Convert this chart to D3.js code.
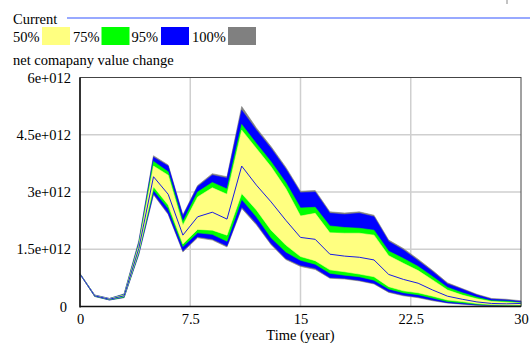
<!doctype html>
<html>
<head>
<meta charset="utf-8">
<script src="https://cdn.jsdelivr.net/npm/d3@7"></script>
<style>
  body { margin: 0; background: #fff; }
  svg { display: block; font-family: "Liberation Serif", "Times New Roman", serif; }
</style>
</head>
<body>
<div id="chart"></div>
<script>
  // simulation run values (e+012) per year
  const years = [0,1,2,3,4,5,6,7,8,9,10,11,12,13,14,15,16,17,18,19,20,21,22,23,24,25,26,27,28,29,30];
  const hi100 = [0.86,0.30,0.21,0.33,1.72,3.95,3.71,2.40,3.17,3.48,3.40,5.24,4.68,4.19,3.65,3.02,3.04,2.48,2.45,2.48,2.39,1.74,1.52,1.24,0.94,0.62,0.47,0.32,0.21,0.19,0.15];
  const hi95  = [0.86,0.30,0.21,0.32,1.68,3.91,3.68,2.37,3.14,3.44,3.36,5.14,4.62,4.14,3.60,2.98,3.00,2.44,2.41,2.44,2.35,1.70,1.48,1.20,0.91,0.59,0.45,0.30,0.19,0.17,0.13];
  const hi75  = [0.86,0.29,0.20,0.31,1.63,3.80,3.53,2.22,3.00,3.25,3.08,4.77,4.27,3.79,3.25,2.58,2.60,2.11,2.07,2.05,2.00,1.45,1.26,1.05,0.78,0.50,0.36,0.24,0.15,0.14,0.10];
  const hi50  = [0.86,0.29,0.20,0.30,1.60,3.68,3.44,2.13,2.87,3.11,2.94,4.62,4.14,3.66,3.09,2.37,2.44,1.93,1.92,1.92,1.87,1.33,1.13,0.94,0.69,0.43,0.30,0.20,0.13,0.11,0.09];
  const current = [0.85,0.28,0.19,0.28,1.52,3.40,2.94,1.87,2.35,2.47,2.29,3.68,3.18,2.74,2.26,1.81,1.76,1.37,1.32,1.29,1.22,0.84,0.71,0.61,0.43,0.27,0.19,0.12,0.08,0.07,0.08];
  const lo50  = [0.85,0.28,0.19,0.27,1.45,3.14,2.66,1.64,2.02,2.00,1.87,2.96,2.53,2.00,1.61,1.31,1.20,0.96,0.91,0.85,0.78,0.52,0.41,0.36,0.27,0.17,0.13,0.08,0.05,0.04,0.04];
  const lo75  = [0.85,0.27,0.18,0.25,1.42,3.05,2.57,1.57,1.93,1.89,1.71,2.81,2.35,1.80,1.43,1.21,1.11,0.87,0.82,0.78,0.69,0.46,0.36,0.31,0.22,0.13,0.10,0.06,0.04,0.03,0.03];
  const lo95  = [0.85,0.27,0.17,0.24,1.38,2.96,2.44,1.46,1.83,1.77,1.59,2.61,2.18,1.65,1.26,1.08,1.00,0.76,0.74,0.69,0.61,0.39,0.30,0.25,0.17,0.10,0.07,0.04,0.03,0.02,0.02];
  const lo100 = [0.85,0.26,0.17,0.23,1.36,2.93,2.41,1.43,1.80,1.74,1.56,2.57,2.14,1.62,1.23,1.05,0.97,0.74,0.72,0.67,0.59,0.37,0.28,0.23,0.15,0.09,0.06,0.03,0.02,0.02,0.02];

  const xTicks = [0, 7.5, 15, 22.5, 30];
  const yTicks = [0, 1.5e12, 3e12, 4.5e12, 6e12];
  const legendLabels = ["50%", "75%", "95%", "100%"];
  const bandColors = ["#ffff80", "#00ff00", "#0000ff", "#808080"];

  const width = 530, height = 343;
  const plotL = 80, plotR = 521, plotT = 77.5, plotB = 306.5;
  const fs = 14.5;

  const svg = d3.select('#chart').append('svg')
    .attr('width', width)
    .attr('height', height);

  const x = d3.scaleLinear().domain([0, 30]).range([plotL, plotR]);
  const y = d3.scaleLinear().domain([0, 6e12]).range([plotB, plotT]);

  // grid
  svg.append('g').selectAll('line')
    .data(xTicks.slice(1, -1))
    .join('line')
    .attr('x1', d => x(d)).attr('x2', d => x(d))
    .attr('y1', plotT).attr('y2', plotB)
    .attr('stroke', '#cfcfcf').attr('stroke-width', 1.5);

  svg.append('g').selectAll('line')
    .data(yTicks.slice(1, -1))
    .join('line')
    .attr('x1', plotL).attr('x2', plotR)
    .attr('y1', d => y(d)).attr('y2', d => y(d))
    .attr('stroke', '#cfcfcf').attr('stroke-width', 1.5);

  // bands, outer to inner
  const bands = [
    { lo: lo100, hi: hi100, color: bandColors[3] },
    { lo: lo95, hi: hi95, color: bandColors[2] },
    { lo: lo75, hi: hi75, color: bandColors[1] },
    { lo: lo50, hi: hi50, color: bandColors[0] }
  ];

  const area = d3.area()
    .x(d => x(d.t))
    .y0(d => y(d.lo * 1e12))
    .y1(d => y(d.hi * 1e12));

  bands.forEach(b => {
    const rows = years.map((t, i) => ({ t: t, lo: b.lo[i], hi: b.hi[i] }));
    svg.append('path')
      .datum(rows)
      .attr('d', area)
      .attr('fill', b.color)
      .attr('stroke', b.color)
      .attr('stroke-width', 0.6);
  });

  const line = d3.line()
    .x((d, i) => x(years[i]))
    .y(d => y(d * 1e12));

  svg.append('path')
    .datum(current)
    .attr('d', line)
    .attr('fill', 'none')
    .attr('stroke', '#1a1ae6')
    .attr('stroke-width', 1);

  // frame
  svg.append('rect')
    .attr('x', plotL).attr('y', plotT)
    .attr('width', plotR - plotL).attr('height', plotB - plotT)
    .attr('fill', 'none')
    .attr('stroke', '#444').attr('stroke-width', 1);

  svg.append('line')
    .attr('x1', plotL).attr('x2', plotL).attr('y1', plotT).attr('y2', plotB + 1)
    .attr('stroke', '#111').attr('stroke-width', 1.5);
  svg.append('line')
    .attr('x1', plotL).attr('x2', plotR).attr('y1', plotB).attr('y2', plotB)
    .attr('stroke', '#111').attr('stroke-width', 1.5);

  // axes
  const yAxis = svg.append('g')
    .attr('transform', `translate(${plotL - 6},0)`)
    .call(d3.axisLeft(y).tickValues(yTicks).tickSize(0)
      .tickFormat(d => d === 0 ? '0' : (d / 1e12) + 'e+012'));
  yAxis.select('.domain').remove();
  yAxis.selectAll('text')
    .attr('fill', '#000')
    .attr('font-size', fs)
    .attr('font-family', '"Liberation Serif", serif');
  yAxis.selectAll('text').filter(d => d === 0).attr('dx', -4);

  const xAxis = svg.append('g')
    .attr('transform', `translate(0,${plotB + 4})`)
    .call(d3.axisBottom(x).tickValues(xTicks).tickSize(0).tickFormat(d => d));
  xAxis.select('.domain').remove();
  xAxis.selectAll('text')
    .attr('fill', '#000')
    .attr('font-size', fs)
    .attr('font-family', '"Liberation Serif", serif');

  svg.append('text')
    .attr('x', (plotL + plotR) / 2).attr('y', 339.5)
    .attr('text-anchor', 'middle')
    .attr('font-size', fs)
    .text('Time (year)');

  // legend
  svg.append('text')
    .attr('x', 13).attr('y', 24)
    .attr('font-size', fs)
    .text('Current');
  svg.append('line')
    .attr('x1', 67).attr('x2', 530).attr('y1', 18).attr('y2', 18)
    .attr('stroke', '#3355ff').attr('stroke-width', 1.2);

  const legendX = [13, 73, 131.5, 192];
  const swatchX = [42, 101.5, 161, 228];
  legendLabels.forEach((lab, i) => {
    svg.append('text')
      .attr('x', legendX[i]).attr('y', 42)
      .attr('font-size', fs)
      .text(lab);
    svg.append('rect')
      .attr('x', swatchX[i]).attr('y', 27)
      .attr('width', 28).attr('height', 18)
      .attr('fill', bandColors[i]);
  });

  svg.append('text')
    .attr('x', 13).attr('y', 65)
    .attr('font-size', fs)
    .text('net comapany value change');

  svg.append('line')
    .attr('x1', 507).attr('x2', 507).attr('y1', 0).attr('y2', 4)
    .attr('stroke', '#888');
</script>
</body>
</html>
